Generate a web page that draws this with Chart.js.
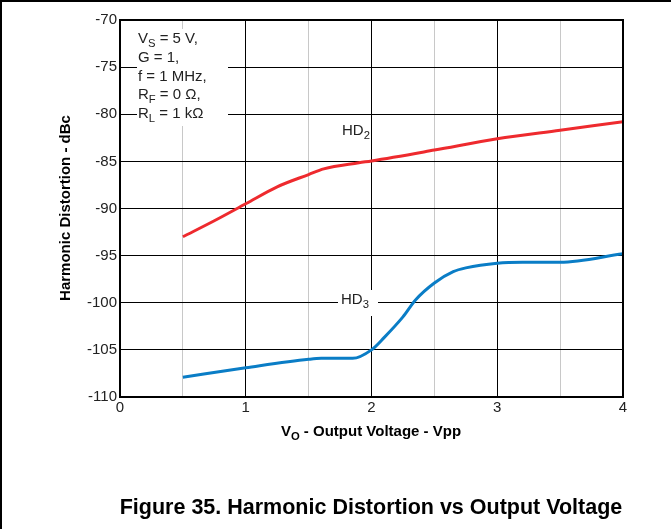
<!DOCTYPE html>
<html>
<head>
<meta charset="utf-8">
<script src="https://cdn.jsdelivr.net/npm/chart.js@4/dist/chart.umd.min.js"></script>
<style>
  html, body { margin: 0; padding: 0; background: #fff; }
  #wrap { width: 671px; height: 529px; }
</style>
</head>
<body>
<div id="wrap"><canvas id="hdChart" width="671" height="529"></canvas></div>
<script>
const hd2X = [0.5, 0.75, 1, 1.25, 1.5, 1.62, 1.9, 2, 2.5, 3, 3.5, 4];
const hd2Y = [-93.0, -91.3, -89.5, -87.7, -86.4, -85.8, -85.15, -84.95, -83.8, -82.6, -81.7, -80.8];

const hd3X = [0.5, 1, 1.5, 1.6, 1.85, 2, 2.1, 2.25, 2.35, 2.5, 2.65, 2.75, 3, 3.2, 3.5, 4];
const hd3Y = [-107.9, -106.9, -106.0, -105.9, -105.9, -105.0, -103.7, -101.5, -99.7, -97.9, -96.7, -96.3, -95.8, -95.7, -95.7, -94.8];

const xTicks = [0, 1, 2, 3, 4];
const yTicks = [-70, -75, -80, -85, -90, -95, -100, -105, -110];

const font = "'Liberation Sans', Arial, sans-serif";

function toPoints(xs, ys) {
  return xs.map((x, i) => ({ x: x, y: ys[i] }));
}

// text with subscript parts: [["V", false], ["S", true], [" = 5 V,", false]]
function drawParts(ctx, parts, x, y, size, bold, align) {
  const w = parts.reduce((s, p) => {
    ctx.font = (bold ? "bold " : "") + (p[1] ? size * 0.75 : size) + "px " + font;
    return s + ctx.measureText(p[0]).width;
  }, 0);
  let cx = align === "center" ? x - w / 2 : x;
  parts.forEach(p => {
    ctx.font = (bold ? "bold " : "") + (p[1] ? size * 0.75 : size) + "px " + font;
    ctx.fillText(p[0], cx, p[1] ? y + size * 0.3 : y);
    cx += ctx.measureText(p[0]).width;
  });
}

const labelPlugin = {
  id: "labels",
  beforeDatasetsDraw(chart) {
    const ctx = chart.ctx;
    ctx.save();
    ctx.fillStyle = "#fff";
    ctx.fillRect(137, 29, 91, 97);
    ctx.fillRect(338, 290, 40, 26);
    ctx.restore();
  },
  afterDraw(chart) {
    const ctx = chart.ctx;
    const a = chart.chartArea;
    ctx.save();
    // frame
    ctx.strokeStyle = "#000";
    ctx.lineWidth = 2;
    ctx.strokeRect(a.left, a.top, a.right - a.left, a.bottom - a.top);
    ctx.beginPath();
    ctx.moveTo(0, 1); ctx.lineTo(671, 1);
    ctx.moveTo(1, 0); ctx.lineTo(1, 529);
    ctx.stroke();

    ctx.fillStyle = "#222";
    ctx.textBaseline = "middle";
    ctx.textAlign = "left";
    drawParts(ctx, [["V", false], ["S", true], [" = 5 V,", false]], 138, 39, 15, false);
    drawParts(ctx, [["G = 1,", false]], 138, 58, 15, false);
    drawParts(ctx, [["f = 1 MHz,", false]], 138, 77, 15, false);
    drawParts(ctx, [["R", false], ["F", true], [" = 0 \u03A9,", false]], 138, 95, 15, false);
    drawParts(ctx, [["R", false], ["L", true], [" = 1 k\u03A9", false]], 138, 114, 15, false);

    drawParts(ctx, [["HD", false], ["2", true]], 342, 131, 15, false);
    drawParts(ctx, [["HD", false], ["3", true]], 341, 300, 15, false);

    ctx.fillStyle = "#000";
    drawParts(ctx, [["V", false], ["O", true], [" - Output Voltage - Vpp", false]], 371, 432, 15, true, "center");

    ctx.translate(66, 208);
    ctx.rotate(-Math.PI / 2);
    ctx.textAlign = "center";
    ctx.font = "bold 15px " + font;
    ctx.fillText("Harmonic Distortion - dBc", 0, 0);
    ctx.restore();

    ctx.save();
    ctx.fillStyle = "#000";
    ctx.textAlign = "center";
    ctx.textBaseline = "middle";
    ctx.font = "bold 21.5px " + font;
    ctx.fillText("Figure 35. Harmonic Distortion vs Output Voltage", 371, 508);
    ctx.restore();
  }
};

new Chart(document.getElementById("hdChart").getContext("2d"), {
  type: "line",
  data: {
    datasets: [
      {
        label: "HD2",
        data: toPoints(hd2X, hd2Y),
        borderColor: "#ee2a2e",
        borderWidth: 3,
        pointRadius: 0,
        cubicInterpolationMode: "monotone"
      },
      {
        label: "HD3",
        data: toPoints(hd3X, hd3Y),
        borderColor: "#0a7dc6",
        borderWidth: 3,
        pointRadius: 0,
        cubicInterpolationMode: "monotone"
      }
    ]
  },
  options: {
    responsive: false,
    animation: false,
    events: [],
    layout: { padding: { left: 0, top: 20, right: 48, bottom: 0 } },
    plugins: {
      legend: { display: false },
      tooltip: { enabled: false }
    },
    scales: {
      x: {
        type: "linear",
        min: 0,
        max: 4,
        afterFit: scale => { scale.height = 132; },
        afterBuildTicks: scale => {
          const t = [];
          for (let v = 0; v <= 4; v += 0.5) t.push({ value: v });
          scale.ticks = t;
        },
        ticks: {
          color: "#222",
          font: { family: font, size: 15 },
          padding: 2,
          maxRotation: 0,
          autoSkip: false,
          callback: v => xTicks.includes(v) ? String(v) : ""
        },
        grid: {
          drawTicks: false,
          color: ctx => Number.isInteger(ctx.tick.value) ? "#000" : "#c8c8c8",
          lineWidth: 1
        },
        border: { display: false }
      },
      y: {
        min: -110,
        max: -70,
        afterFit: scale => { scale.width = 120; },
        afterBuildTicks: scale => {
          scale.ticks = yTicks.map(v => ({ value: v }));
        },
        ticks: {
          color: "#222",
          font: { family: font, size: 15 },
          padding: 3,
          autoSkip: false
        },
        grid: {
          drawTicks: false,
          color: "#000",
          lineWidth: 1
        },
        border: { display: false }
      }
    }
  },
  plugins: [labelPlugin]
});
</script>
</body>
</html>
